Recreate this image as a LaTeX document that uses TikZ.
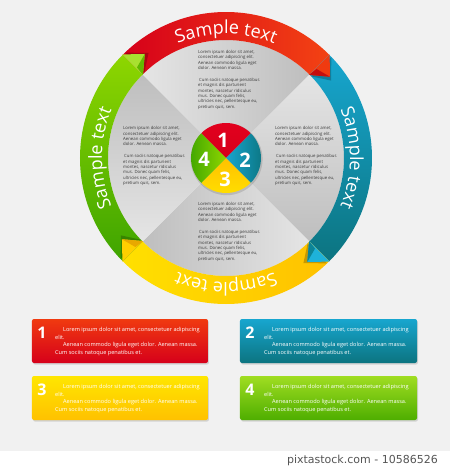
\documentclass[tikz,border=0pt]{standalone}
\usepackage{fontspec}
\setmainfont{Open Sans}
\setsansfont{Open Sans}
\newfontfamily\footfont{DejaVu Sans}
\usetikzlibrary{decorations.text}

\definecolor{bgc}{HTML}{F1F1F1}
\definecolor{qa}{HTML}{E5E5E5}
\definecolor{qm}{HTML}{F4F4F4}
\definecolor{qb}{HTML}{BEBEBE}
\definecolor{redA}{HTML}{D6001A}
\definecolor{redB}{HTML}{F34213}
\definecolor{redC}{HTML}{E3001E}
\definecolor{redTip}{HTML}{F03A10}
\definecolor{redFold}{HTML}{C40E0E}
\definecolor{bluA}{HTML}{17A6CF}
\definecolor{bluB}{HTML}{0C7480}
\definecolor{bluTip}{HTML}{1EB2DA}
\definecolor{bluFold}{HTML}{0D8496}
\definecolor{yelA}{HTML}{FFE000}
\definecolor{yelB}{HTML}{FFC100}
\definecolor{yelTip}{HTML}{FFCF00}
\definecolor{yelFold}{HTML}{E8A800}
\definecolor{grnA}{HTML}{8ED600}
\definecolor{grnB}{HTML}{3EA400}
\definecolor{grnTip}{HTML}{A8E030}
\definecolor{grnFold}{HTML}{62B800}
\definecolor{qtext}{HTML}{3A3A3A}
\definecolor{foot}{HTML}{555555}

\newcommand\ringfont{\fontsize{18}{18}\selectfont}
\newcommand\quadtext{Lorem ipsum dolor sit amet,\\consectetuer adipiscing elit.\\Aenean commodo ligula eget\\dolor. Aenean massa.\\[6.8pt]\hspace*{1pt}Cum sociis natoque penatibus\\et magnis dis parturient\\montes, nascetur ridiculus\\mus. Donec quam felis,\\ultricies nec, pellentesque eu,\\pretium quis, sem.}
\newcommand\boxtext{\hspace*{8pt}Lorem ipsum dolor sit amet, consectetuer adipiscing\\elit.\\ \hspace*{8pt}Aenean commodo ligula eget dolor. Aenean massa.\\Cum sociis natoque penatibus et.}

\tikzset{
  bandseg/.style 2 args={insert path={(#1:146) arc[start angle=#1,end angle=#2,radius=146] -- (#2:118) arc[start angle=#2,end angle=#1,radius=118] -- cycle}},
  tipseg/.style={insert path={(#1:146.5) -- (#1-7:132) -- (#1:117.5) -- cycle}},
  tipshadow/.style={insert path={(#1-1.2:146) -- (#1-8.6:130.5) -- (#1-1.2:118) -- cycle}},
  foldseg/.style={insert path={(#1:117.5) -- (#1-7:132) -- (#1-0.5:127) -- cycle}},
  quadseg/.style 2 args={insert path={(0,0) -- (#1:118) arc[start angle=#1,end angle=#2,radius=118] -- cycle}},
  smallseg/.style 2 args={insert path={(0,0) -- (#1:35) arc[start angle=#1,end angle=#2,radius=35] -- cycle}},
  quadnode/.style={anchor=north west, inner sep=0pt, align=left, text=qtext, font=\fontsize{4.3}{5.3}\selectfont},
  bignum/.style={text=white, inner sep=0pt, font=\fontsize{20}{20}\selectfont\bfseries},
  boxnum/.style={text=white, inner sep=0pt, font=\fontsize{16}{16}\selectfont\bfseries},
  boxtxt/.style={anchor=north west, inner sep=0pt, align=left, text=white, font=\fontsize{5.6}{7.5}\selectfont},
  ringtext/.style={decorate, decoration={text along path, text={|\ringfont|Sample text}, text align=center, text color=white}},
  infobox/.style={rounded corners=2pt},
  boxshadow/.style={fill=black, opacity=0.13, rounded corners=2pt}
}

\begin{document}
\begin{tikzpicture}[x=1pt,y=1pt]
\useasboundingbox (-226,-311) rectangle (224,158);
\fill[bgc] (-226,-293) rectangle (224,158);
\fill[white] (-226,-311) rectangle (224,-293);

% gray quadrants of the disc
\shade[top color=qa, middle color=qm, bottom color=qb, shading angle=90, quadseg={135}{45}];
\shade[top color=qa, middle color=qm, bottom color=qb, shading angle=0, quadseg={45}{-45}];
\shade[top color=qa, middle color=qm, bottom color=qb, shading angle=-90, quadseg={-45}{-135}];
\shade[top color=qa, middle color=qm, bottom color=qb, shading angle=180, quadseg={-135}{-225}];

% ring bands
\shade[left color=redA, right color=redB, bandseg={135}{45}];
\shade[top color=bluA, bottom color=bluB, bandseg={45}{-45}];
\shade[left color=yelA, right color=yelB, bandseg={-45}{-135}];
\shade[top color=grnA, bottom color=grnB, bandseg={-135}{-225}];

% arrow tips
\fill[black, opacity=0.22, tipshadow=45];
\fill[black, opacity=0.22, tipshadow=-45];
\fill[black, opacity=0.22, tipshadow=-135];
\fill[black, opacity=0.22, tipshadow=135];
\fill[redTip, tipseg=45];
\fill[bluTip, tipseg=-45];
\fill[yelTip, tipseg=-135];
\fill[grnTip, tipseg=135];
\fill[redFold, foldseg=45];
\fill[bluFold, foldseg=-45];
\fill[yelFold, foldseg=-135];
\fill[grnFold, foldseg=135];

% ring texts
\path[ringtext] (160:124) arc[start angle=160, end angle=20, radius=124];
\path[ringtext] (70:124) arc[start angle=70, end angle=-70, radius=124];
\path[ringtext] (-20:124) arc[start angle=-20, end angle=-160, radius=124];
\path[ringtext] (250:124) arc[start angle=250, end angle=110, radius=124];

% quadrant texts
\node[quadnode] (qtop) at (-28,107.8) {\quadtext};
\node[quadnode] (qleft) at (-103,31.5) {\quadtext};
\node[quadnode] (qright) at (49,31.5) {\quadtext};
\node[quadnode] (qbottom) at (-28,-44.2) {\quadtext};

% centre circle
\fill[black, opacity=0.12] (0.6,-1.2) circle[radius=36];
\shade[top color=redC, bottom color=redA, smallseg={45}{135}];
\shade[left color=bluA, right color=bluB, smallseg={-45}{45}];
\shade[top color=yelB, bottom color=yelA, smallseg={-135}{-45}];
\shade[left color=grnB, right color=grnA, smallseg={135}{225}];
\node[bignum] (n1) at (-3,18) {1};
\node[bignum] (n2) at (19,-2) {2};
\node[bignum] (n3) at (-1,-21) {3};
\node[bignum] (n4) at (-22,-1) {4};

% info boxes
\fill[boxshadow] (-193,-162.5) rectangle (-17,-206.5);
\fill[boxshadow] (15,-162.5) rectangle (192,-206.5);
\fill[boxshadow] (-193,-219.5) rectangle (-17,-263.5);
\fill[boxshadow] (15,-219.5) rectangle (192,-263.5);
\shade[infobox, top color=redTip, bottom color=redA] (-194,-161) rectangle (-18,-205);
\shade[infobox, top color=bluA, bottom color=bluB] (14,-161) rectangle (191,-205);
\shade[infobox, top color=yelA!80!yellow, bottom color=yelB] (-194,-218) rectangle (-18,-262);
\shade[infobox, top color=grnTip!70!grnA, bottom color=grnB!80!grnA] (14,-218) rectangle (191,-262);

\node[boxnum] (b1) at (-184,-174.5) {1};
\node[boxnum] (b2) at (24,-174.5) {2};
\node[boxnum] (b3) at (-184,-231.5) {3};
\node[boxnum] (b4) at (24,-231.5) {4};
\node[boxtxt] (t1) at (-171,-169.3) {\boxtext};
\node[boxtxt] (t2) at (38,-169.3) {\boxtext};
\node[boxtxt] (t3) at (-171,-226.3) {\boxtext};
\node[boxtxt] (t4) at (38,-226.3) {\boxtext};

% footer
\node[anchor=east, inner sep=0pt, text=foot, font=\footfont\fontsize{11}{11}\selectfont] (foot) at (212,-302) {pixtastock.com - 10586526};
\end{tikzpicture}
\end{document}
